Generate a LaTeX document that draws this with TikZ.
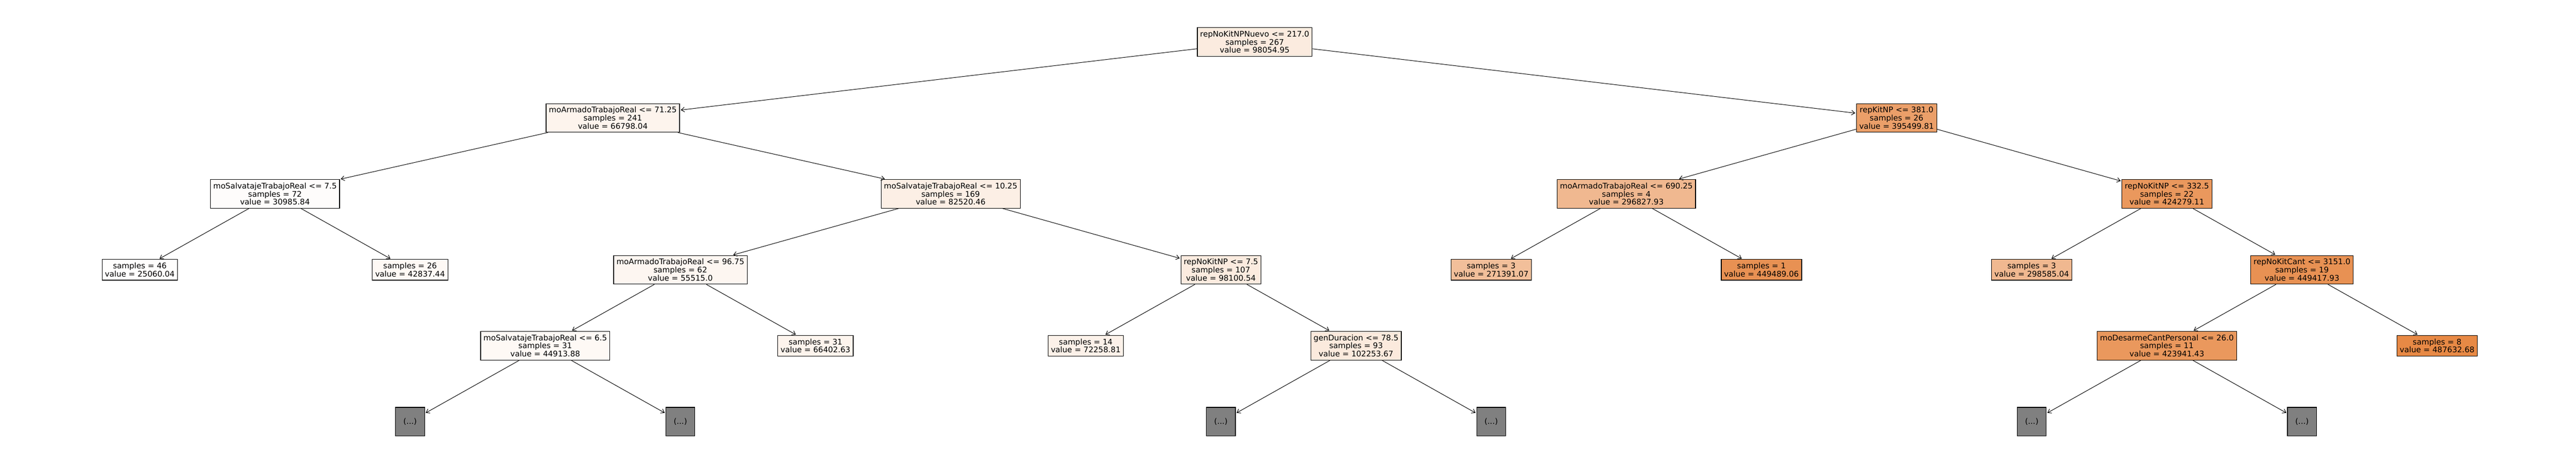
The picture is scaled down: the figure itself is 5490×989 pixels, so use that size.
\documentclass[tikz,border=0pt]{standalone}
\usepackage{fontspec}
\setmainfont{DejaVu Sans}
\usetikzlibrary{arrows.meta}
\definecolor{sko}{RGB}{229,129,57}
\definecolor{hid}{RGB}{128,128,128}
\begin{document}
\begin{tikzpicture}[x=1pt,y=-1pt,
  tn/.style={draw=black, line width=1.3pt, inner xsep=6pt, inner ysep=0pt, align=center,
    font=\fontsize{16.56}{17.2}\selectfont},
  tthree/.style={tn, minimum height=61pt},
  ttwo/.style={tn, minimum height=44pt},
  hidbox/.style={tn, fill=hid, minimum width=62pt, minimum height=61pt},
  arr/.style={-{Straight Barb[length=7pt,width=10pt,line width=1.1pt]}, line width=1.1pt, shorten >=2pt}]
\useasboundingbox (0,0) rectangle (5490,989);
\fill[white] (0,0) rectangle (5490,989);
% level 0
\node[tthree, fill=sko!16!white] (root) at (2674,89.5) {repNoKitNPNuevo <= 217.0\\samples = 267\\value = 98054.95};
% level 1
\node[tthree, fill=sko!9!white] (a) at (1306,251.4) {moArmadoTrabajoReal <= 71.25\\samples = 241\\value = 66798.04};
\node[tthree, fill=sko!76!white] (b) at (4042,251.4) {repKitNP <= 381.0\\samples = 26\\value = 395499.81};
% level 2
\node[tthree, fill=sko!2!white] (aa) at (586,413.3) {moSalvatajeTrabajoReal <= 7.5\\samples = 72\\value = 30985.84};
\node[tthree, fill=sko!13!white] (ab) at (2026,413.3) {moSalvatajeTrabajoReal <= 10.25\\samples = 169\\value = 82520.46};
\node[tthree, fill=sko!56!white] (ba) at (3466,413.3) {moArmadoTrabajoReal <= 690.25\\samples = 4\\value = 296827.93};
\node[tthree, fill=sko!82!white] (bb) at (4618,413.3) {repNoKitNP <= 332.5\\samples = 22\\value = 424279.11};
% level 3
\node[ttwo, fill=sko!1!white] (aaa) at (298,575.2) {samples = 46\\value = 25060.04};
\node[ttwo, fill=sko!5!white] (aab) at (874,575.2) {samples = 26\\value = 42837.44};
\node[tthree, fill=sko!7!white] (aba) at (1450,575.2) {moArmadoTrabajoReal <= 96.75\\samples = 62\\value = 55515.0};
\node[tthree, fill=sko!16!white] (abb) at (2602,575.2) {repNoKitNP <= 7.5\\samples = 107\\value = 98100.54};
\node[ttwo, fill=sko!51!white] (baa) at (3178,575.2) {samples = 3\\value = 271391.07};
\node[ttwo, fill=sko!87!white] (bab) at (3754,575.2) {samples = 1\\value = 449489.06};
\node[ttwo, fill=sko!56!white] (bba) at (4330,575.2) {samples = 3\\value = 298585.04};
\node[tthree, fill=sko!87!white] (bbb) at (4906,575.2) {repNoKitCant <= 3151.0\\samples = 19\\value = 449417.93};
% level 4
\node[tthree, fill=sko!5!white] (abaa) at (1162,737.1) {moSalvatajeTrabajoReal <= 6.5\\samples = 31\\value = 44913.88};
\node[ttwo, fill=sko!9!white] (abab) at (1738,737.1) {samples = 31\\value = 66402.63};
\node[ttwo, fill=sko!11!white] (abba) at (2314,737.1) {samples = 14\\value = 72258.81};
\node[tthree, fill=sko!17!white] (abbb) at (2890,737.1) {genDuracion <= 78.5\\samples = 93\\value = 102253.67};
\node[tthree, fill=sko!82!white] (bbba) at (4618,737.1) {moDesarmeCantPersonal <= 26.0\\samples = 11\\value = 423941.43};
\node[ttwo, fill=sko!94!white] (bbbb) at (5194,737.1) {samples = 8\\value = 487632.68};
% level 5 (hidden)
\node[hidbox] (h1) at (874,899) {(...)};
\node[hidbox] (h2) at (1450,899) {(...)};
\node[hidbox] (h3) at (2602,899) {(...)};
\node[hidbox] (h4) at (3178,899) {(...)};
\node[hidbox] (h5) at (4330,899) {(...)};
\node[hidbox] (h6) at (4906,899) {(...)};
% edges
\draw[arr] (root) -- (a);
\draw[arr] (root) -- (b);
\draw[arr] (a) -- (aa);
\draw[arr] (a) -- (ab);
\draw[arr] (b) -- (ba);
\draw[arr] (b) -- (bb);
\draw[arr] (aa) -- (aaa);
\draw[arr] (aa) -- (aab);
\draw[arr] (ab) -- (aba);
\draw[arr] (ab) -- (abb);
\draw[arr] (ba) -- (baa);
\draw[arr] (ba) -- (bab);
\draw[arr] (bb) -- (bba);
\draw[arr] (bb) -- (bbb);
\draw[arr] (aba) -- (abaa);
\draw[arr] (aba) -- (abab);
\draw[arr] (abb) -- (abba);
\draw[arr] (abb) -- (abbb);
\draw[arr] (bbb) -- (bbba);
\draw[arr] (bbb) -- (bbbb);
\draw[arr] (abaa) -- (h1);
\draw[arr] (abaa) -- (h2);
\draw[arr] (abbb) -- (h3);
\draw[arr] (abbb) -- (h4);
\draw[arr] (bbba) -- (h5);
\draw[arr] (bbba) -- (h6);
\end{tikzpicture}
\end{document}
